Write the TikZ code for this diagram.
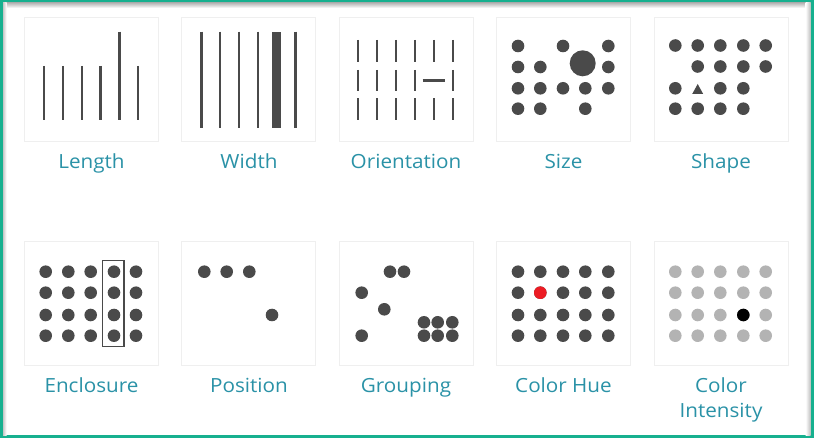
\documentclass[tikz,border=0pt]{standalone}
\usepackage{fontspec}
\setmainfont[FakeStretch=1.06]{Open Sans}
\definecolor{framegreen}{HTML}{17B08F}
\definecolor{labblue}{HTML}{2A92A7}
\definecolor{ink}{HTML}{4A4A4A}
\definecolor{panline}{HTML}{EFEFEF}
\definecolor{lite}{HTML}{B3B3B3}
\definecolor{huered}{HTML}{EC1C24}
\begin{document}
\begin{tikzpicture}[x=1pt,y=-1pt,
  panel/.style={draw=panline, line width=1pt, fill=white},
  lab/.style={text=labblue, font=\fontsize{19.5}{22}\selectfont, inner sep=0pt, anchor=base},
  bar/.style={draw=ink, line width=2.4pt},
  obar/.style={draw=ink, line width=2.1pt},
  dotc/.style={fill=ink},
  litec/.style={fill=lite}]
\useasboundingbox (0,0) rectangle (814,438);
% frame
\fill[framegreen] (0,0) rectangle (814,438);
\fill[white] (3,3) rectangle (810.5,435);
\shade[top color=black!28, bottom color=white] (3,3) rectangle (810.5,8);
\shade[left color=black!22, right color=white] (3,3) rectangle (6.5,435);
\shade[left color=white, right color=black!25] (805.5,3) rectangle (810.5,435);
% panels
\foreach \px in {24,181.5,339,496.5,654} {
  \draw[panel] (\px,18) rectangle ++(134,124);
  \draw[panel] (\px,242) rectangle ++(134,123);
}
% labels
\node[lab] (lLength) at (91.5,168.3) {Length};
\node[lab] (lWidth) at (249,168.3) {Width};
\node[lab] (lOrient) at (406,168.3) {Orientation};
\node[lab] (lSize) at (563.5,168.3) {Size};
\node[lab] (lShape) at (721,168.3) {Shape};
\node[lab] (lEncl) at (91.5,392.7) {Enclosure};
\node[lab] (lPos) at (249,392.7) {Position};
\node[lab] (lGroup) at (406,392.7) {Grouping};
\node[lab] (lHue) at (563.5,392.7) {Color Hue};
\node[lab] (lColor) at (721,392.7) {Color};
\node[lab] (lIntens) at (721,417.7) {Intensity};
% Length
\foreach \lx in {43.7,62.7,81.7,100.3,138} \draw[bar] (\lx,66) -- (\lx,120);
\draw[bar] (119.3,31.7) -- (119.3,120);
% Width
\foreach \lx in {201.3,220,238.7,257.7,295.3} \draw[bar] (\lx,31.7) -- (\lx,128);
\fill[ink] (272,31.7) rectangle (281,128);
% Orientation
\foreach \ox in {358.3,377.3,396,415,434,453} {
  \draw[obar] (\ox,40) -- (\ox,61.7);
  \draw[obar] (\ox,98.3) -- (\ox,120);
}
\foreach \ox in {358.3,377.3,396,415,453} \draw[obar] (\ox,70) -- (\ox,90.7);
\draw[obar] (422.7,80.5) -- (445,80.5);
% Size
\foreach \sx/\sy in {518/46,563/46,608.3/46,518/67,540.3/67,608.3/67,
  518/88.3,540.3/88.3,563/88.3,585.3/88.3,608.3/88.3,518/108.7,540.3/108.7,585.3/108.7}
  \fill[dotc] (\sx,\sy) circle (6.3);
\fill[dotc] (582.7,63.3) circle (13);
% Shape
\foreach \sx/\sy in {675.3/45.5,697.7/45.5,720.3/45.5,743.3/45.5,765.7/45.5,
  697.7/66.5,720.3/66.5,743.3/66.5,765.7/66.5,
  675.3/88.3,720.3/88.3,743.3/88.3,
  675.3/108.7,697.7/108.7,720.3/108.7,743.3/108.7}
  \fill[dotc] (\sx,\sy) circle (6.3);
\fill[ink] (692.2,94) -- (703.2,94) -- (697.7,84) -- cycle;
% Enclosure
\foreach \ex in {45.7,68.3,90.7,114,136}
  \foreach \ey in {271.7,292.7,315,335.7}
    \fill[dotc] (\ex,\ey) circle (6.3);
\draw[draw=ink, line width=1.8pt] (102.5,260.5) rectangle (124,346.5);
% Position
\foreach \px in {204.3,226.7,249.3} \fill[dotc] (\px,271.7) circle (6.3);
\fill[dotc] (272,315) circle (6.3);
% Grouping
\foreach \gx/\gy in {390/271.7,404/271.7,361.7/292.7,384.3/309.3,361.7/335.7,
  424/322.3,437.7/322.3,452.3/322.3,424/335.7,437.7/335.7,452.3/335.7}
  \fill[dotc] (\gx,\gy) circle (6.3);
% Color hue
\foreach \cx in {518,540.3,563,585.3,608.3}
  \foreach \cy in {271.7,292.7,315,335.7}
    \fill[dotc] (\cx,\cy) circle (6.3);
\fill[huered] (540.3,292.7) circle (6.3);
% Color intensity
\foreach \cx in {675.3,697.7,720.3,743.3,765.7}
  \foreach \cy in {271.7,292.7,315,335.7}
    \fill[litec] (\cx,\cy) circle (6.3);
\fill[black] (743.3,315) circle (6.3);
\end{tikzpicture}
\end{document}
